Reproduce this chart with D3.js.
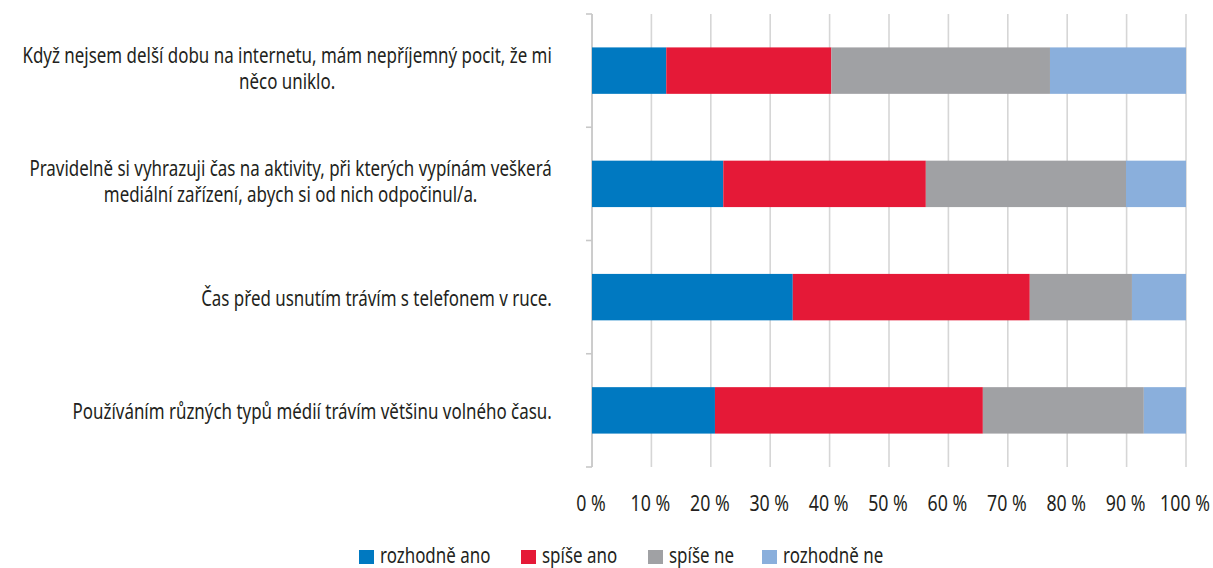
<!doctype html>
<html lang="cs">
<head>
    <meta charset="utf-8"/>
    <title>Média – volný čas</title>
    <script src="https://d3js.org/d3.v7.min.js"></script>
    <style>
        body { margin: 0; padding: 0; background: #fff; }
        svg text { font-family: "Noto Sans", "DejaVu Sans", sans-serif; fill: #231f20; }
    </style>
</head>
<body>
<script>
    // otázky (řádky popisku tak, jak jsou zalomené v předloze)
    const categories = [
        ["Když nejsem delší dobu na internetu, mám nepříjemný pocit, že mi", "něco uniklo."],
        ["Pravidelně si vyhrazuji čas na aktivity, při kterých vypínám veškerá", "mediální zařízení, abych si od nich odpočinul/a."],
        ["Čas před usnutím trávím s telefonem v ruce."],
        ["Používáním různých typů médií trávím většinu volného času."]
    ]

    // odpovědi
    const seriesNames = ["rozhodně ano", "spíše ano", "spíše ne", "rozhodně ne"]
    const seriesColors = ["#0079c1", "#e51937", "#a0a1a4", "#8aafdc"]

    // podíly v %
    const rozhodneAno = [12.5, 22.1, 33.8, 20.7]
    const spiseAno = [27.8, 34.1, 39.9, 45.1]
    const spiseNe = [36.8, 33.7, 17.2, 27.1]
    const rozhodneNe = [22.9, 10.1, 9.1, 7.1]

    const xTicks = [0, 10, 20, 30, 40, 50, 60, 70, 80, 90, 100]

    const width = 1213, height = 568
    const plotLeft = 592, plotRight = 1186, plotTop = 14, plotBottom = 467
    const fs = 21

    const svg = d3.select("body").append("svg")
        .attr("width", width)
        .attr("height", height)

    // předloha má úzké písmo -> zjistíme, kolik je třeba text stlačit
    const probe = svg.append("text").style("font-size", fs + "px").text(categories[2][0])
    const k = 351 / probe.node().getComputedTextLength()
    probe.remove()

    const x = d3.scaleLinear().domain([0, 100]).range([plotLeft, plotRight])
    const y = d3.scaleBand().domain(d3.range(categories.length)).range([plotTop, plotBottom]).paddingInner(0.59).paddingOuter(0.295)
    const yEdges = d3.scaleLinear().domain([0, categories.length]).range([plotTop, plotBottom])

    // mřížka
    svg.append("g")
        .selectAll("line")
        .data(xTicks)
        .join("line")
        .attr("x1", d => x(d)).attr("x2", d => x(d))
        .attr("y1", plotTop).attr("y2", plotBottom)
        .attr("stroke", "#d6d6d6")
        .attr("stroke-width", 1.6)

    // osa y s čárkami mezi kategoriemi
    svg.append("g")
        .selectAll("line")
        .data(d3.range(categories.length + 1))
        .join("line")
        .attr("x1", plotLeft - 6).attr("x2", plotLeft)
        .attr("y1", d => yEdges(d)).attr("y2", d => yEdges(d))
        .attr("stroke", "#c8c8c8")
        .attr("stroke-width", 1.6)

    svg.append("line")
        .attr("x1", plotLeft).attr("x2", plotLeft)
        .attr("y1", plotTop).attr("y2", plotBottom)
        .attr("stroke", "#c8c8c8")
        .attr("stroke-width", 1.6)

    // skládané pruhy
    const seriesData = [rozhodneAno, spiseAno, spiseNe, rozhodneNe]
    const rows = categories.map((c, i) => {
        const r = {idx: i}
        seriesNames.forEach((s, j) => r[s] = seriesData[j][i])
        return r
    })
    const stacked = d3.stack().keys(seriesNames)(rows)

    svg.append("g")
        .selectAll("g")
        .data(stacked)
        .join("g")
        .attr("fill", (d, i) => seriesColors[i])
        .selectAll("rect")
        .data(d => d)
        .join("rect")
        .attr("x", d => x(d[0]))
        .attr("width", d => x(d[1]) - x(d[0]))
        .attr("y", d => y(d.data.idx))
        .attr("height", y.bandwidth())

    // popisky osy x
    svg.append("g")
        .selectAll("text")
        .data(xTicks)
        .join("text")
        .attr("text-anchor", "middle")
        .attr("transform", d => `translate(${x(d) - 1},511) scale(${k},1)`)
        .style("font-size", "22px")
        .text(d => d + " %")

    // popisky kategorií – blok zarovnaný vpravo, řádky na střed
    const labelRight = 552
    const lineH = 26
    categories.forEach((lines, i) => {
        const g = svg.append("g")
        const t = g.append("text")
            .attr("text-anchor", "middle")
            .style("font-size", fs + "px")
        lines.forEach((ln, j) => {
            t.append("tspan").attr("x", 0).attr("y", j * lineH).text(ln)
        })
        let maxW = 0
        t.selectAll("tspan").each(function () { maxW = Math.max(maxW, this.getComputedTextLength()) })
        const cy = y(i) + y.bandwidth() / 2
        // víceřádkové popisky sedí v předloze o kousek výš
        const offY = cy - (lines.length - 1) * (lineH / 2 + 4) + 9
        g.attr("transform", `translate(${labelRight - maxW * k / 2},${offY}) scale(${k},1)`)
    })

    // legenda
    const legendX = [359, 521, 648, 762]
    const legend = svg.append("g")
        .selectAll("g")
        .data(seriesNames)
        .join("g")
        .attr("transform", (d, i) => `translate(${legendX[i]},550)`)
    legend.append("rect")
        .attr("width", 15).attr("height", 14)
        .attr("fill", (d, i) => seriesColors[i])
    legend.append("text")
        .attr("transform", `translate(21,12.5) scale(${k},1)`)
        .style("font-size", fs + "px")
        .text(d => d)
</script>
</body>
</html>
